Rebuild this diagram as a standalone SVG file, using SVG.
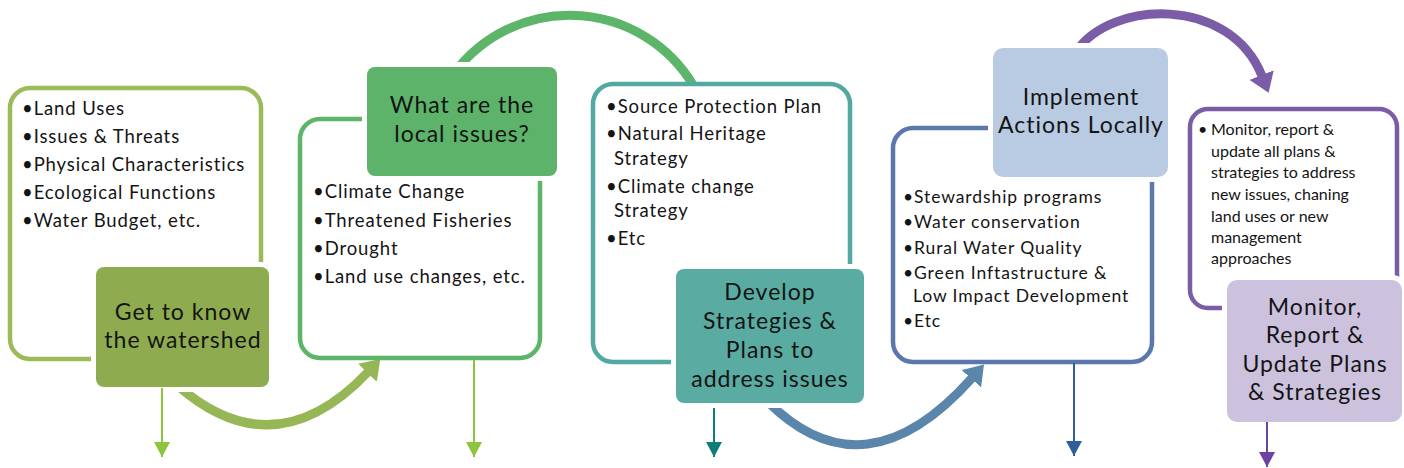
<svg xmlns="http://www.w3.org/2000/svg" width="1404" height="468" viewBox="0 0 1404 468">
  <style>
    text { font-family: Lato, "Open Sans", "Liberation Sans", sans-serif; fill: #141414; }
    .title { font-size: 23px; letter-spacing: 1px; text-anchor: middle; }
    .item { font-size: 18.5px; letter-spacing: 0.9px; }
    .mid { font-size: 17.5px; letter-spacing: 0.9px; }
    .small { font-size: 16px; }
    .frame { fill: #fff; stroke-width: 4.5; }
    .head { stroke: #fff; stroke-width: 10; paint-order: stroke; }
    .flow { fill: none; stroke-width: 9; }
    .drop { fill: none; stroke-width: 2; }
  </style>
  <defs>
    <!-- heads for the thick curved flow arrows -->
    <marker id="hd-olive" markerUnits="userSpaceOnUse" markerWidth="20" markerHeight="26" viewBox="0 0 20 26" refX="1" refY="13" orient="auto"><path d="M0,0 L19,13 L0,26 z" fill="#97b656"/></marker>
    <marker id="hd-blue" markerUnits="userSpaceOnUse" markerWidth="20" markerHeight="26" viewBox="0 0 20 26" refX="1" refY="13" orient="auto"><path d="M0,0 L19,13 L0,26 z" fill="#5a86ab"/></marker>
    <marker id="hd-purple" markerUnits="userSpaceOnUse" markerWidth="20" markerHeight="26" viewBox="0 0 20 26" refX="1" refY="13" orient="auto"><path d="M0,0 L19,13 L0,26 z" fill="#7b5ca6"/></marker>
    <!-- heads for the thin downward outputs -->
    <marker id="dh-lime" markerUnits="userSpaceOnUse" markerWidth="15" markerHeight="16" viewBox="0 0 15 16" refX="15" refY="8" orient="auto"><path d="M0,0 L15,8 L0,16 z" fill="#8cc43c"/></marker>
    <marker id="dh-teal" markerUnits="userSpaceOnUse" markerWidth="15" markerHeight="16" viewBox="0 0 15 16" refX="15" refY="8" orient="auto"><path d="M0,0 L15,8 L0,16 z" fill="#0e7c78"/></marker>
    <marker id="dh-navy" markerUnits="userSpaceOnUse" markerWidth="15" markerHeight="16" viewBox="0 0 15 16" refX="15" refY="8" orient="auto"><path d="M0,0 L15,8 L0,16 z" fill="#2f5f98"/></marker>
    <marker id="dh-violet" markerUnits="userSpaceOnUse" markerWidth="15" markerHeight="16" viewBox="0 0 15 16" refX="15" refY="8" orient="auto"><path d="M0,0 L15,8 L0,16 z" fill="#6a43a3"/></marker>
  </defs>

  <rect width="1404" height="468" fill="#fff"/>

  <!-- curved flow between stages; drawn first so the boxes sit on top -->
  <g id="connectors">
    <path class="flow" d="M178 386 Q275 470 368 372" stroke="#97b656" marker-end="url(#hd-olive)"/>
    <path class="flow" d="M455 72 A144 144 0 0 1 697 92" stroke="#5db56a" stroke-width="8"/>
    <path class="flow" d="M768 402 Q865 498 972 378" stroke="#5a86ab" marker-end="url(#hd-blue)"/>
    <path class="flow" d="M1076 52 C1110 0 1230 -5 1262 76" stroke="#7b5ca6" marker-end="url(#hd-purple)"/>
  </g>

  <g id="node-watershed">
    <rect class="frame" x="10" y="88" width="251" height="271" rx="20" stroke="#9bbb59"/>
    <rect class="head" x="96" y="267" width="173" height="120" rx="8" fill="#8eac4f"/>
    <text class="title" x="183" y="320">Get to know</text>
    <text class="title" x="183" y="348">the watershed</text>
    <text class="item" x="22" y="115">•Land Uses</text>
    <text class="item" x="22" y="143">•Issues &amp; Threats</text>
    <text class="item" x="22" y="171">•Physical Characteristics</text>
    <text class="item" x="22" y="199">•Ecological Functions</text>
    <text class="item" x="22" y="227">•Water Budget, etc.</text>
  </g>

  <g id="node-issues">
    <rect class="frame" x="300" y="119" width="240" height="239" rx="20" stroke="#5db56a"/>
    <rect class="head" x="367" y="67" width="190" height="109" rx="8" fill="#5db36a"/>
    <text class="title" x="462" y="113">What are the</text>
    <text class="title" x="462" y="142">local issues?</text>
    <text class="item" x="313" y="198">•Climate Change</text>
    <text class="item" x="313" y="227">•Threatened Fisheries</text>
    <text class="item" x="313" y="255">•Drought</text>
    <text class="item" x="313" y="283">•Land use changes, etc.</text>
  </g>

  <g id="node-strategies">
    <rect class="frame" x="593" y="84" width="257" height="278" rx="20" stroke="#52a9a1"/>
    <rect class="head" x="676" y="269" width="188" height="134" rx="8" fill="#5aaba1"/>
    <text class="title" x="770" y="300">Develop</text>
    <text class="title" x="770" y="329">Strategies &amp;</text>
    <text class="title" x="770" y="358">Plans to</text>
    <text class="title" x="770" y="387">address issues</text>
    <text class="item" x="606" y="113">•Source Protection Plan</text>
    <text class="item" x="606" y="140">•Natural Heritage</text>
    <text class="item" x="614" y="165">Strategy</text>
    <text class="item" x="606" y="193">•Climate change</text>
    <text class="item" x="614" y="217">Strategy</text>
    <text class="item" x="606" y="245">•Etc</text>
  </g>

  <g id="node-implement">
    <rect class="frame" x="893" y="128" width="259" height="234" rx="20" stroke="#5b77ad"/>
    <rect class="head" x="993" y="48" width="175" height="129" rx="10" fill="#b8cbe3"/>
    <text class="title" x="1081" y="105">Implement</text>
    <text class="title" x="1081" y="133">Actions Locally</text>
    <text class="mid" x="903" y="203">•Stewardship programs</text>
    <text class="mid" x="903" y="228">•Water conservation</text>
    <text class="mid" x="903" y="254">•Rural Water Quality</text>
    <text class="mid" x="903" y="279">•Green Inftastructure &amp;</text>
    <text class="mid" x="913" y="302">Low Impact Development</text>
    <text class="mid" x="903" y="327">•Etc</text>
  </g>

  <g id="node-monitor">
    <rect class="frame" x="1190" y="109" width="207" height="199" rx="18" stroke="#7b5ca6"/>
    <rect class="head" x="1227" y="280" width="175" height="142" rx="10" fill="#ccc2de"/>
    <text class="title" x="1315" y="315">Monitor,</text>
    <text class="title" x="1315" y="343">Report &amp;</text>
    <text class="title" x="1315" y="372">Update Plans</text>
    <text class="title" x="1315" y="400">&amp; Strategies</text>
    <text class="small" x="1198" y="135">•</text>
    <text class="small" x="1211" y="135">Monitor, report &amp;</text>
    <text class="small" x="1211" y="157">update all plans &amp;</text>
    <text class="small" x="1211" y="178">strategies to address</text>
    <text class="small" x="1211" y="200">new issues, chaning</text>
    <text class="small" x="1211" y="222">land uses or new</text>
    <text class="small" x="1211" y="243">management</text>
    <text class="small" x="1211" y="264">approaches</text>
  </g>

  <!-- downward outputs from each stage -->
  <g id="outputs">
    <line class="drop" x1="162" y1="388" x2="162" y2="457" stroke="#8cc43c" marker-end="url(#dh-lime)"/>
    <line class="drop" x1="474" y1="360" x2="474" y2="457" stroke="#8cc43c" marker-end="url(#dh-lime)"/>
    <line class="drop" x1="714" y1="408" x2="714" y2="457" stroke="#0e7c78" marker-end="url(#dh-teal)"/>
    <line class="drop" x1="1074" y1="363" x2="1074" y2="456" stroke="#2f5f98" marker-end="url(#dh-navy)"/>
    <line class="drop" x1="1267" y1="422" x2="1267" y2="467" stroke="#6a43a3" marker-end="url(#dh-violet)"/>
  </g>
</svg>
